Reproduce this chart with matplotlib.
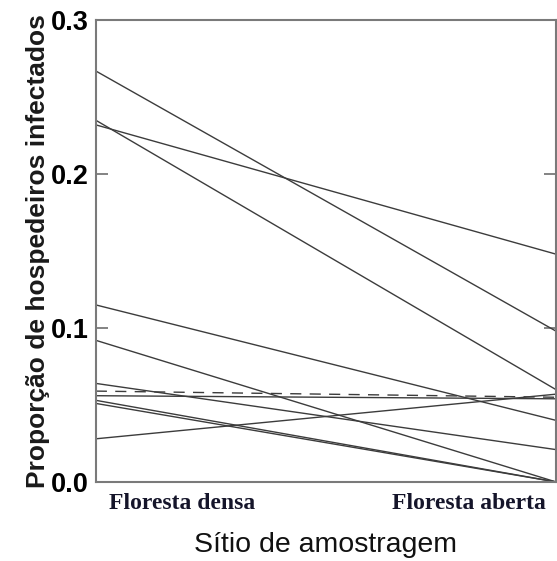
import numpy as np
import matplotlib
matplotlib.use('Agg')
import matplotlib.pyplot as plt

# Paired proportions: dense forest (left) vs open forest (right)
sites = ['Floresta densa', 'Floresta aberta']
densa  = [0.267, 0.235, 0.232, 0.115, 0.092, 0.064, 0.059, 0.056, 0.053, 0.051, 0.028]
aberta = [0.098, 0.060, 0.148, 0.040, 0.000, 0.021, 0.055, 0.054, 0.000, 0.000, 0.057]
styles = ['-', '-', '-', '-', '-', '-', (0, (8, 6)), '-', '-', '-', '-']
yticks = [0.0, 0.1, 0.2, 0.3]

fig = plt.figure(figsize=(5.57, 5.61), dpi=100)
ax = fig.add_axes([0.172, 0.141, 0.826, 0.823])

for d, a, ls in zip(densa, aberta, styles):
    ax.plot([0, 1], [d, a], color='#3c3c3c', linewidth=1.0, linestyle=ls)

ax.set_xlim(0, 1)
ax.set_ylim(0, 0.3)

for sp in ax.spines.values():
    sp.set_color('#7a7a7a')
    sp.set_linewidth(1.5)

ax.set_yticks(yticks)
ax.set_yticklabels(['%.1f' % t for t in yticks], fontsize=19.5, fontweight='bold',
                   family='Liberation Sans')
ax.tick_params(axis='y', direction='in', length=8.5, width=1.3, color='#7a7a7a',
               right=True, pad=5)

# category labels sit inside the span of the two ends
ax.set_xticks([0.188, 0.812])
ax.set_xticklabels(sites, fontsize=17, fontweight='bold', family='Liberation Serif',
                   color='#15152a')
ax.tick_params(axis='x', length=0, pad=8)

ax.set_ylabel('Proporção de hospedeiros infectados', fontsize=19, fontweight='bold',
              family='Liberation Sans', color='#1a1a1a', labelpad=1)
ax.set_xlabel('Sítio de amostragem', fontsize=20.5, family='Liberation Sans',
              color='#111111', labelpad=13)

plt.savefig('out.png', dpi=100)
